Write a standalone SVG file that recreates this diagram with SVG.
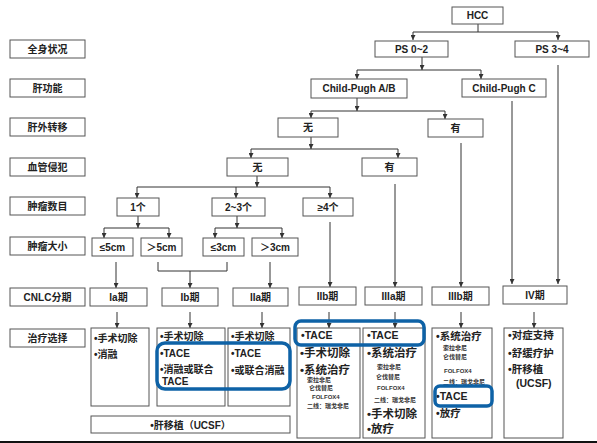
<svg xmlns="http://www.w3.org/2000/svg" width="597" height="443" viewBox="0 0 597 443">
<defs>
<style>
.box{fill:#fff;stroke:#555;stroke-width:1}
.t{font-family:"Liberation Sans","Noto Sans CJK SC",sans-serif;font-weight:bold;fill:#222;font-size:10px;text-anchor:middle}
.l{font-family:"Liberation Sans","Noto Sans CJK SC",sans-serif;font-weight:bold;fill:#222;font-size:10.5px}
.m{font-size:10px}
.b{font-size:11.5px}
.s{font-family:"Liberation Sans","Noto Sans CJK SC",sans-serif;font-weight:bold;fill:#333;font-size:6px}
.c{fill:none;stroke:#333;stroke-width:1}
.hl{fill:none;stroke:#0e62a6;stroke-width:3.5}
</style>
<marker id="ah" viewBox="0 0 6 6" refX="6" refY="3" markerWidth="5" markerHeight="5" orient="auto" markerUnits="userSpaceOnUse"><path d="M0,0 L6,3 L0,6 z" fill="#333"/></marker>
</defs>
<rect width="597" height="443" fill="#fff"/>

<g id="labels">
<g id="lab1"><rect class="box" x="10" y="40" width="75" height="18"/><text class="t" x="47.5" y="52.5">全身状况</text></g>
<g id="lab2"><rect class="box" x="10" y="79" width="75" height="18"/><text class="t" x="47.5" y="91.5">肝功能</text></g>
<g id="lab3"><rect class="box" x="10" y="118" width="75" height="18"/><text class="t" x="47.5" y="130.5">肝外转移</text></g>
<g id="lab4"><rect class="box" x="10" y="158" width="75" height="18"/><text class="t" x="47.5" y="170.5">血管侵犯</text></g>
<g id="lab5"><rect class="box" x="10" y="197" width="75" height="18"/><text class="t" x="47.5" y="209.5">肿瘤数目</text></g>
<g id="lab6"><rect class="box" x="10" y="237" width="75" height="18"/><text class="t" x="47.5" y="249.5">肿瘤大小</text></g>
<g id="lab7"><rect class="box" x="10" y="288" width="75" height="18"/><text class="t" x="47.5" y="300.5">CNLC分期</text></g>
<g id="lab8"><rect class="box" x="10" y="329" width="75" height="18"/><text class="t" x="47.5" y="341.5">治疗选择</text></g>
</g>

<g id="connectors">
<path class="c" d="M478,24 V32 M413,32 H558"/>
<path class="c" marker-end="url(#ah)" d="M413,32 V40"/>
<path class="c" marker-end="url(#ah)" d="M558,32 V40"/>
<path class="c" marker-end="url(#ah)" d="M422,57 V70"/>
<path class="c" d="M357,70 H481"/>
<path class="c" marker-end="url(#ah)" d="M357,70 V79"/>
<path class="c" marker-end="url(#ah)" d="M481,70 V79"/>
<path class="c" marker-end="url(#ah)" d="M357,98 V111"/>
<path class="c" d="M311,111 H445"/>
<path class="c" marker-end="url(#ah)" d="M311,111 V118"/>
<path class="c" marker-end="url(#ah)" d="M445,111 V119"/>
<path class="c" marker-end="url(#ah)" d="M311,137 V149"/>
<path class="c" d="M251,149 H398"/>
<path class="c" marker-end="url(#ah)" d="M251,149 V158"/>
<path class="c" marker-end="url(#ah)" d="M398,149 V158"/>
<path class="c" marker-end="url(#ah)" d="M257,176 V187"/>
<path class="c" d="M137,187 H330"/>
<path class="c" marker-end="url(#ah)" d="M137,187 V198"/>
<path class="c" marker-end="url(#ah)" d="M236,187 V198"/>
<path class="c" marker-end="url(#ah)" d="M330,187 V198"/>
<path class="c" marker-end="url(#ah)" d="M138,216 V228"/>
<path class="c" d="M104,228 H169"/>
<path class="c" marker-end="url(#ah)" d="M104,228 V238"/>
<path class="c" marker-end="url(#ah)" d="M169,228 V238"/>
<path class="c" marker-end="url(#ah)" d="M237,216 V228"/>
<path class="c" d="M215,228 H282"/>
<path class="c" marker-end="url(#ah)" d="M215,228 V238"/>
<path class="c" marker-end="url(#ah)" d="M282,228 V238"/>
<path class="c" marker-end="url(#ah)" d="M116,262 V288"/>
<path class="c" d="M158,262 V271 H227 V262"/>
<path class="c" marker-end="url(#ah)" d="M190,271 V288"/>
<path class="c" marker-end="url(#ah)" d="M270,262 V288"/>
<path class="c" marker-end="url(#ah)" d="M330,222 V287"/>
<path class="c" marker-end="url(#ah)" d="M395,184 V287"/>
<path class="c" marker-end="url(#ah)" d="M461,143 V287"/>
<path class="c" marker-end="url(#ah)" d="M512,101 V284"/>
<path class="c" marker-end="url(#ah)" d="M558,65 V284"/>
<path class="c" marker-end="url(#ah)" d="M117,312 V328"/>
<path class="c" marker-end="url(#ah)" d="M190,312 V328"/>
<path class="c" marker-end="url(#ah)" d="M262,312 V328"/>
<path class="c" marker-end="url(#ah)" d="M329,312 V328"/>
<path class="c" marker-end="url(#ah)" d="M395,312 V328"/>
<path class="c" marker-end="url(#ah)" d="M461,312 V328"/>
<path class="c" marker-end="url(#ah)" d="M534,312 V328"/>
</g>

<g id="hcc"><rect class="box" x="452" y="7" width="51" height="17"/><text class="t" x="477.5" y="19">HCC</text></g>
<g id="ps02"><rect class="box" x="375" y="41" width="73" height="16"/><text class="t" x="411.5" y="52.5">PS 0~2</text></g>
<g id="ps34"><rect class="box" x="515" y="41" width="74" height="16"/><text class="t" x="552" y="52.5">PS 3~4</text></g>
<g id="cpab"><rect class="box" x="311" y="79" width="96" height="19"/><text class="t" x="359" y="92">Child-Pugh A/B</text></g>
<g id="cpc"><rect class="box" x="462" y="79" width="84" height="18"/><text class="t" x="504" y="91.5">Child-Pugh C</text></g>
<g id="mnone"><rect class="box" x="278" y="118" width="60" height="19"/><text class="t" x="308" y="131">无</text></g>
<g id="myes"><rect class="box" x="428" y="119" width="55" height="18"/><text class="t" x="455.5" y="131.5">有</text></g>
<g id="vnone"><rect class="box" x="227" y="158" width="61" height="18"/><text class="t" x="257.5" y="170.5">无</text></g>
<g id="vyes"><rect class="box" x="362" y="158" width="55" height="18"/><text class="t" x="389.5" y="170.5">有</text></g>
<g id="n1"><rect class="box" x="117" y="198" width="42" height="18"/><text class="t" x="138" y="210.5">1个</text></g>
<g id="n23"><rect class="box" x="212" y="198" width="53" height="18"/><text class="t" x="238.5" y="210.5">2~3个</text></g>
<g id="n4"><rect class="box" x="303" y="198" width="50" height="18"/><text class="t" x="328" y="210.5">≥4个</text></g>
<g id="s5"><rect class="box" x="92" y="238" width="41" height="18"/><text class="t" x="112.5" y="250.5">≤5cm</text></g>
<g id="sg5"><rect class="box" x="141" y="238" width="41" height="18"/><text class="t" x="161.5" y="250.5">＞5cm</text></g>
<g id="s3"><rect class="box" x="203" y="238" width="41" height="18"/><text class="t" x="223.5" y="250.5">≤3cm</text></g>
<g id="sg3"><rect class="box" x="252" y="238" width="46" height="18"/><text class="t" x="275" y="250.5">＞3cm</text></g>

<g id="stIa"><rect class="box" x="90" y="288" width="57" height="18"/><text class="t" x="118.5" y="300.5">Ia期</text></g>
<g id="stIb"><rect class="box" x="162" y="288" width="56" height="18"/><text class="t" x="190" y="300.5">Ib期</text></g>
<g id="stIIa"><rect class="box" x="233" y="288" width="55" height="18"/><text class="t" x="260.5" y="300.5">IIa期</text></g>
<g id="stIIb"><rect class="box" x="299" y="287" width="57" height="18"/><text class="t" x="327.5" y="299.5">IIb期</text></g>
<g id="stIIIa"><rect class="box" x="365" y="287" width="57" height="18"/><text class="t" x="393.5" y="299.5">IIIa期</text></g>
<g id="stIIIb"><rect class="box" x="432" y="287" width="57" height="18"/><text class="t" x="460.5" y="299.5">IIIb期</text></g>
<g id="stIV"><rect class="box" x="503" y="286" width="64" height="18"/><text class="t" x="535" y="298.5">IV期</text></g>

<g id="trIa"><rect class="box" x="91" y="328" width="58" height="78"/>
<text class="l m" x="94" y="342">•手术切除</text><text class="l m" x="94" y="358">•消融</text></g>
<g id="trIb"><rect class="box" x="157" y="328" width="68" height="78"/>
<text class="l m" x="160" y="340">•手术切除</text><text class="l m" x="160" y="357">•TACE</text><text class="l m" x="160" y="373">•消融或联合</text><text class="l m" x="162" y="384.5">TACE</text></g>
<g id="trIIa"><rect class="box" x="228" y="328" width="62" height="78"/>
<text class="l m" x="231" y="340">•手术切除</text><text class="l m" x="231" y="357">•TACE</text><text class="l m" x="231" y="374">•或联合消融</text></g>
<g id="trLT"><rect class="box" x="91" y="416" width="199" height="17"/><text class="t" x="190.5" y="428.5">•肝移植（UCSF）</text></g>

<g id="trIIb"><rect class="box" x="297" y="328" width="63" height="110"/>
<text class="l" x="301" y="339">•TACE</text><text class="l b" x="300" y="357">•手术切除</text><text class="l b" x="300" y="374">•系统治疗</text>
<text class="s" x="307" y="382">索拉非尼</text><text class="s" x="309" y="390">仑伐替尼</text><text class="s" x="312" y="399">FOLFOX4</text><text class="s" x="307" y="408">二线：瑞戈非尼</text></g>
<g id="trIIIa"><rect class="box" x="363" y="328" width="62" height="110"/>
<text class="l" x="367" y="339">•TACE</text><text class="l b" x="367" y="357">•系统治疗</text>
<text class="s" x="377" y="369">索拉非尼</text><text class="s" x="376" y="379">仑伐替尼</text><text class="s" x="377" y="390">FOLFOX4</text><text class="s" x="374" y="402">二线：瑞戈非尼</text>
<text class="l b" x="367" y="418">•手术切除</text><text class="l b" x="367" y="433">•放疗</text></g>
<g id="trIIIb"><rect class="box" x="432" y="328" width="60" height="110"/>
<text class="l" x="436" y="340">•系统治疗</text>
<text class="s" x="443" y="350">索拉非尼</text><text class="s" x="443" y="359">仑伐替尼</text><text class="s" x="444" y="373">FOLFOX4</text><text class="s" x="443" y="384">二线：瑞戈非尼</text>
<text class="l" x="436" y="400">•TACE</text><text class="l" x="436" y="417">•放疗</text></g>
<g id="trIV"><rect class="box" x="504" y="328" width="59" height="110"/>
<text class="l" x="508" y="339">•对症支持</text><text class="l" x="508" y="357">•舒缓疗护</text><text class="l" x="508" y="373">•肝移植</text><text class="l" x="516" y="387">(UCSF)</text></g>

<g id="highlights">
<rect class="hl" x="157" y="343" width="133" height="46" rx="8"/>
<rect class="hl" x="295" y="321" width="129" height="24" rx="6"/>
<rect class="hl" x="435" y="386" width="57" height="20" rx="5"/>
</g>
<rect x="0" y="441" width="597" height="2" fill="#111"/>
</svg>
